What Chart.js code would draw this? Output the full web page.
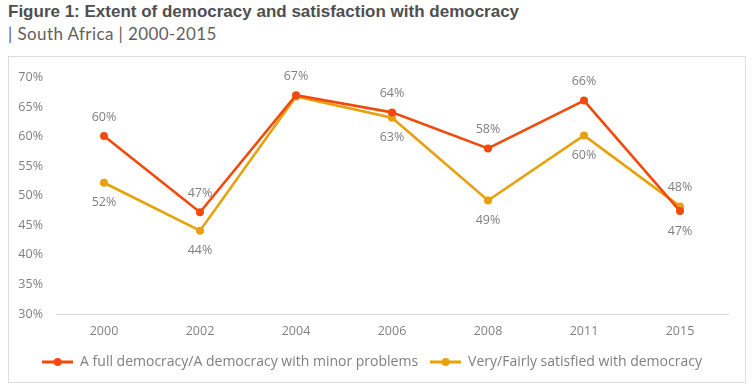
<!DOCTYPE html>
<html>
<head>
<meta charset="utf-8">
<script src="https://cdn.jsdelivr.net/npm/chart.js@4.4.1/dist/chart.umd.min.js"></script>
<style>
  body { margin: 0; background: #fff; font-family: 'Lato', 'Open Sans', sans-serif; }
  #title { position: absolute; left: 8px; top: 2px; font-size: 17px; font-weight: bold; color: #4f4f4f; font-family: 'Liberation Sans', Arial, sans-serif; }
  #subtitle { position: absolute; left: 8px; top: 23px; font-size: 17px; color: #5f5f5f; letter-spacing: 0.4px; }
  #box { position: absolute; left: 8px; top: 56px; width: 736px; height: 325px; border: 1px solid #dcdcdc; }
  #box canvas { position: absolute; left: 0; top: 0; }
</style>
</head>
<body>
<div id="title">Figure 1: Extent of democracy and satisfaction with democracy</div>
<div id="subtitle">| South Africa | 2000-2015</div>
<div id="box"><canvas id="democracy-chart" width="736" height="325"></canvas></div>
<script>
// valores
const years = ['2000', '2002', '2004', '2006', '2008', '2011', '2015'];
const fullDemocracy = [60.1, 47.2, 67.0, 64.1, 58.0, 66.1, 47.4];
const satisfied = [52.2, 44.1, 66.8, 63.2, 49.2, 60.2, 48.2];
const yTicks = [30, 35, 40, 45, 50, 55, 60, 65, 70];

const seriesNames = ['A full democracy/A democracy with minor problems', 'Very/Fairly satisfied with democracy'];
const seriesColors = ['#F04B0C', '#E8A00C'];
// onde vai o rótulo de cada ponto: 'up', 'down' ou 'none'
const labelSides = [
    ['up', 'up', 'up', 'up', 'up', 'up', 'down'],
    ['down', 'down', 'none', 'down', 'down', 'down', 'up']
];

const textGray = '#7f7f7f';
const fontFamily = "'Open Sans', 'Lato', sans-serif";

/**
 * Marcador da legenda: linha com um ponto no meio
 */
function legendMarker(color) {
    const c = document.createElement('canvas');
    c.width = 31;
    c.height = 10;
    const ctx = c.getContext('2d');
    ctx.strokeStyle = color;
    ctx.lineWidth = 3;
    ctx.beginPath();
    ctx.moveTo(0, 5);
    ctx.lineTo(31, 5);
    ctx.stroke();
    ctx.fillStyle = color;
    ctx.beginPath();
    ctx.arc(15.5, 5, 4, 0, Math.PI * 2);
    ctx.fill();
    return c;
}

/**
 * Plugin simples para escrever os valores junto aos pontos
 */
const pointLabels = {
    id: 'pointLabels',
    afterDatasetsDraw(chart) {
        const ctx = chart.ctx;
        ctx.save();
        ctx.font = '12.5px ' + fontFamily;
        ctx.fillStyle = textGray;
        ctx.textAlign = 'center';
        ctx.textBaseline = 'middle';
        chart.data.datasets.forEach((ds, i) => {
            const meta = chart.getDatasetMeta(i);
            meta.data.forEach((pt, j) => {
                const side = labelSides[i][j];
                if (side === 'none') return;
                const dy = side === 'up' ? -19 : 20;
                ctx.fillText(Math.round(ds.data[j]) + '%', pt.x, pt.y + dy);
            });
        });
        ctx.restore();
    }
};

function renderChart() {
    const ctx = document.getElementById('democracy-chart').getContext('2d');
    const markers = seriesColors.map(legendMarker);

    new Chart(ctx, {
        type: 'line',
        data: {
            labels: years,
            datasets: [fullDemocracy, satisfied].map((values, i) => ({
                label: seriesNames[i],
                data: values,
                borderColor: seriesColors[i],
                backgroundColor: seriesColors[i],
                borderWidth: 2.6,
                pointRadius: 4,
                pointBorderWidth: 0,
                tension: 0,
                fill: false
            }))
        },
        options: {
            responsive: false,
            animation: false,
            layout: { padding: { top: 0, left: 7, right: 17, bottom: 3 } },
            scales: {
                x: {
                    offset: true,
                    grid: { display: false, drawTicks: true, tickLength: 5 },
                    border: { display: true, color: '#d9d9d9', width: 1 },
                    ticks: { color: textGray, font: { family: fontFamily, size: 12.5 }, padding: 4.5 }
                },
                y: {
                    min: 30,
                    max: 70,
                    afterBuildTicks: axis => { axis.ticks = yTicks.map(v => ({ value: v })); },
                    afterFit: axis => { axis.width = 40; },
                    grid: { display: false, drawTicks: false },
                    border: { display: false },
                    ticks: {
                        color: textGray,
                        font: { family: fontFamily, size: 12.5 },
                        padding: 13,
                        callback: v => v + '%'
                    }
                }
            },
            plugins: {
                tooltip: { enabled: false },
                legend: {
                    position: 'bottom',
                    labels: {
                        usePointStyle: true,
                        pointStyleWidth: 31,
                        padding: 12,
                        color: textGray,
                        font: { family: fontFamily, size: 14 },
                        generateLabels: chart => {
                            const items = Chart.defaults.plugins.legend.labels.generateLabels(chart);
                            items.forEach((it, k) => { it.pointStyle = markers[k]; });
                            return items;
                        }
                    }
                }
            }
        },
        plugins: [pointLabels]
    });
}

document.addEventListener('DOMContentLoaded', () => {
    renderChart();
});
</script>
</body>
</html>
